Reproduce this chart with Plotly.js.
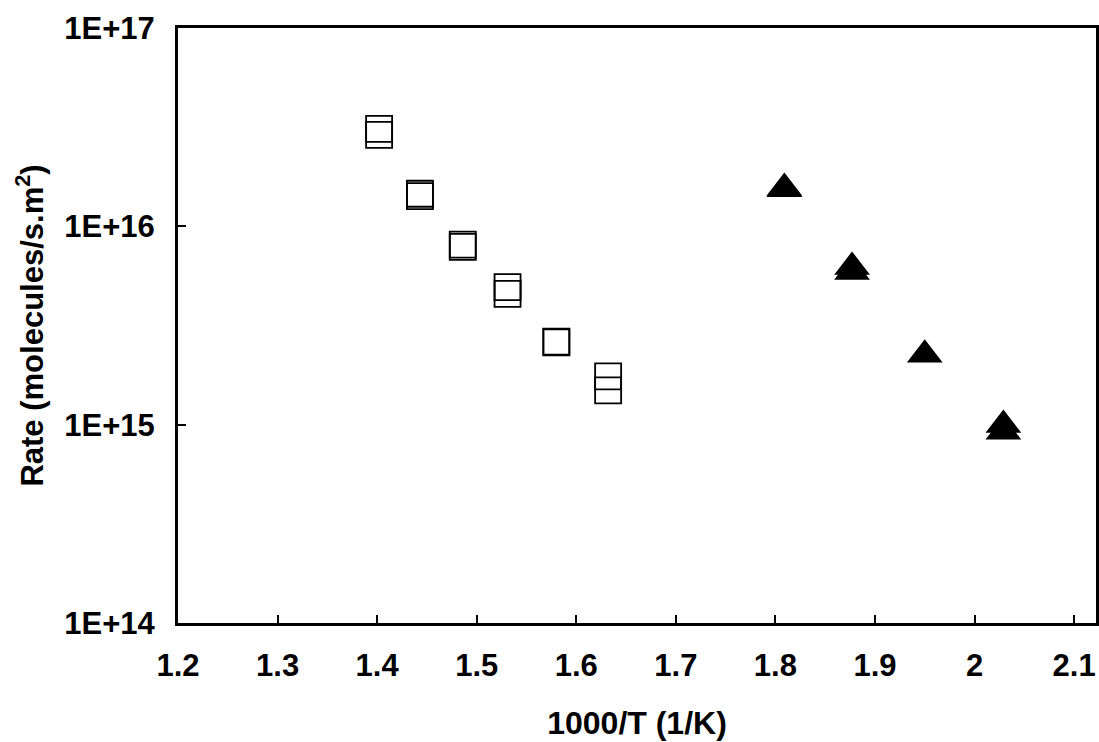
<!DOCTYPE html>
<html>
<head>
<meta charset="utf-8">
<script src="https://cdn.plot.ly/plotly-3.0.1.min.js"></script>
<style>body{margin:0;background:#fff}</style>
</head>
<body>
<div id="chart" style="width:1099px;height:742px"></div>
<script>
// open squares
var sqX = [1.402, 1.402, 1.443, 1.443, 1.486, 1.486, 1.531, 1.531, 1.580, 1.580, 1.632, 1.632];
var sqY = [3.10e16, 2.89e16, 1.46e16, 1.42e16, 8.09e15, 7.87e15, 4.94e15, 4.56e15, 2.62e15, 2.60e15, 1.75e15, 1.49e15];
// filled triangles
var triX = [1.809, 1.809, 1.877, 1.877, 1.950, 2.029, 2.029];
var triY = [1.56e16, 1.54e16, 6.24e15, 5.89e15, 2.25e15, 9.96e14, 9.2e14];

var yTicks = [1e14, 1e15, 1e16, 1e17];
var yTickText = ['<b>1E+14</b>', '<b>1E+15</b>', '<b>1E+16</b>', '<b>1E+17</b>'];
var xTicks = [1.2, 1.3, 1.4, 1.5, 1.6, 1.7, 1.8, 1.9, 2, 2.1];
var xTickText = ['<b>1.2</b>', '<b>1.3</b>', '<b>1.4</b>', '<b>1.5</b>', '<b>1.6</b>', '<b>1.7</b>', '<b>1.8</b>', '<b>1.9</b>', '<b>2</b>', '<b>2.1</b>'];

var fam = 'Liberation Sans, Arial, sans-serif';

var data = [
  {
    x: sqX, y: sqY, type: 'scatter', mode: 'markers',
    marker: {symbol: 'square-open', size: 26, color: '#000', line: {width: 1.8, color: '#000'}}
  },
  {
    x: triX, y: triY, type: 'scatter', mode: 'markers',
    marker: {symbol: 'triangle-up', size: 31, color: '#000'}
  }
];

var layout = {
  width: 1099, height: 742,
  margin: {l: 178, r: 3, t: 28, b: 119},
  showlegend: false,
  paper_bgcolor: '#fff', plot_bgcolor: '#fff',
  font: {family: fam, size: 31, color: '#000'},
  xaxis: {
    range: [1.2, 2.122],
    tickmode: 'array', tickvals: xTicks, ticktext: xTickText,
    showgrid: false, zeroline: false,
    showline: true, linewidth: 3, linecolor: '#000', mirror: true,
    ticks: 'inside', ticklen: 8, tickwidth: 2, tickcolor: '#000',
    ticklabelstandoff: 13,
    tickfont: {family: fam, size: 31, color: '#000'},
    title: {text: '<b>1000/T (1/K)</b>', font: {family: fam, size: 32, color: '#000'}, standoff: 30}
  },
  yaxis: {
    type: 'log', range: [14, 17],
    tickmode: 'array', tickvals: yTicks, ticktext: yTickText,
    showgrid: false, zeroline: false,
    showline: true, linewidth: 3, linecolor: '#000', mirror: true,
    ticks: 'inside', ticklen: 8, tickwidth: 2, tickcolor: '#000',
    ticklabelstandoff: 14,
    tickfont: {family: fam, size: 31, color: '#000'},
    title: {text: '<b>Rate (molecules/s.m<sup>2</sup>)</b>', font: {family: fam, size: 31, color: '#000'}, standoff: 12}
  }
};

Plotly.newPlot('chart', data, layout, {displayModeBar: false});
</script>
</body>
</html>
